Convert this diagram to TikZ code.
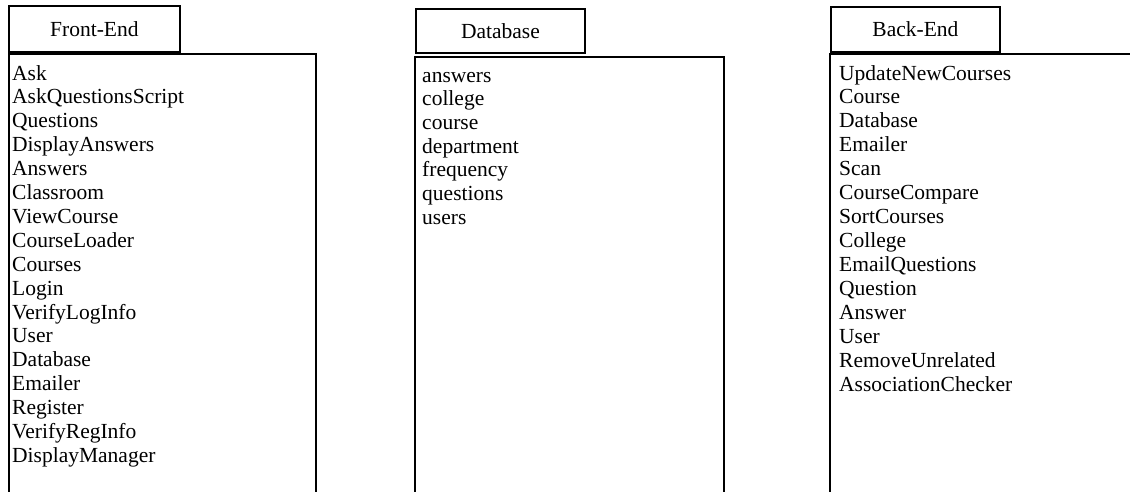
\documentclass[tikz,border=0pt]{standalone}
\usepackage{fontspec}
\setmainfont{Liberation Serif}
\usepackage{tikz}
\usetikzlibrary{positioning}
\usetikzlibrary{calc}

\begin{document}
\begin{tikzpicture}[
        x=1pt, y=-1pt,
        every node/.style={font=\fontsize{21.5}{23.9}\selectfont},
        tabbox/.style = {draw, line width=1.8pt,
                         anchor=north west,
                         minimum width=171pt,
                         minimum height=46pt,
                         inner sep=0pt},
        bodybox/.style = {draw, line width=1.8pt,
                          anchor=north west,
                          minimum height=480pt,
                          inner sep=0pt},
        item/.style = {anchor=base west, inner sep=0pt}
        ]
        \useasboundingbox (0,0) rectangle (1130,491);
        \clip (0,0) rectangle (1130,491);
        % the three packages
        \node[tabbox] (FrontTab) at (8,5) {Front-End};
        \node[bodybox, minimum width=307pt] (FrontBody) at (FrontTab.south west) {};
        \node[tabbox, minimum width=169pt, minimum height=44pt] (DataTab) at (415,8) {Database};
        \node[bodybox, minimum width=309pt] (DataBody) at ($(DataTab.south west)+(-1,2)$) {};
        \node[tabbox, minimum width=169pt, minimum height=45pt] (BackTab) at (830,6) {Back-End};
        \node[bodybox, minimum width=330pt] (BackBody) at ($(BackTab.south west)+(-1,0)$) {};
        % class lists
        \foreach \t [count=\i] in {Ask, AskQuestionsScript, Questions, DisplayAnswers, Answers, Classroom, ViewCourse, CourseLoader, Courses, Login, VerifyLogInfo, User, Database, Emailer, Register, VerifyRegInfo, DisplayManager}
            \node[item] (front\i) at (12, 80+23.9*\i-23.9) {\t};
        \foreach \t [count=\i] in {answers, college, course, department, frequency, questions, users}
            \node[item] (data\i) at (422, 82+23.7*\i-23.7) {\t};
        \foreach \t [count=\i] in {UpdateNewCourses, Course, Database, Emailer, Scan, CourseCompare, SortCourses, College, EmailQuestions, Question, Answer, User, RemoveUnrelated, AssociationChecker}
            \node[item] (back\i) at (839, 80+23.95*\i-23.95) {\t};
    \end{tikzpicture}
\end{document}
